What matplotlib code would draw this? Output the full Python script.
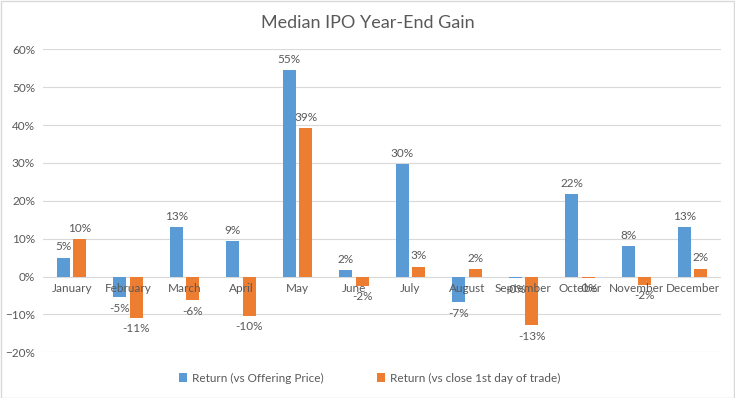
import numpy as np
import matplotlib.pyplot as plt
from matplotlib.patches import Rectangle
from matplotlib.ticker import PercentFormatter

months = ['January', 'February', 'March', 'April', 'May', 'June', 'July',
          'August', 'September', 'October', 'November', 'December']
ret_offer = [0.050, -0.054, 0.130, 0.093, 0.545, 0.016, 0.297,
             -0.068, -0.004, 0.217, 0.080, 0.130]
ret_close = [0.098, -0.109, -0.063, -0.104, 0.392, -0.024, 0.026,
             0.019, -0.129, -0.003, -0.022, 0.021]
series_names = ['Return (vs Offering Price)', 'Return (vs close 1st day of trade)']

plt.rcParams['font.family'] = ['Lato', 'DejaVu Sans']
txt = '#595959'
grid = '#D9D9D9'
blue = '#5B9BD5'
orange = '#ED7D31'

fig = plt.figure(figsize=(7.35, 3.98), dpi=100)
ax = fig.add_axes([0.059, 0.115, 0.922, 0.761])
fig.patches.append(Rectangle((0.001, 0.001), 0.997, 0.996, transform=fig.transFigure,
                             fill=False, edgecolor=grid, lw=1))

yticks = np.arange(-0.2, 0.61, 0.1)
for t in yticks:
    ax.axhline(t, color=grid, lw=0.8, zorder=0)

x = np.arange(len(months))
w = 0.23
off = 0.145
b1 = ax.bar(x - off, ret_offer, w, color=blue, label=series_names[0], zorder=1)
b2 = ax.bar(x + off, ret_close, w, color=orange, label=series_names[1], zorder=1)

for bars, vals in ((b1, ret_offer), (b2, ret_close)):
    for bar, v in zip(bars, vals):
        cx = bar.get_x() + bar.get_width() / 2
        lab = '%d%%' % round(abs(v) * 100)
        if v < 0:
            lab = '-' + lab
        ax.annotate(lab, (cx, v), xytext=(0, 4 if v >= 0 else -4),
                    textcoords='offset points', ha='center',
                    va='bottom' if v >= 0 else 'top', fontsize=8.5, color=txt,
                    zorder=4)

# category labels sit just under the zero line, on top of the bars
for xi, m in zip(x, months):
    ax.annotate(m, (xi, 0), xytext=(0, -5), textcoords='offset points',
                ha='center', va='top', fontsize=8.5, color=txt, zorder=5)

ax.set_xlim(-0.5, len(months) - 0.5)
ax.set_ylim(-0.2, 0.6)
ax.set_yticks(yticks)
ax.yaxis.set_major_formatter(PercentFormatter(1.0, decimals=0))
ax.set_xticks([])
for s in ['top', 'right', 'left', 'bottom']:
    ax.spines[s].set_visible(False)
ax.tick_params(axis='y', length=0, pad=6, labelsize=8.5, labelcolor=txt)

fig.text(0.5, 0.943, 'Median IPO Year-End Gain', ha='center', va='center',
         fontsize=13, color=txt)
fig.legend(loc='center', bbox_to_anchor=(0.503, 0.05), ncol=2, frameon=False,
           fontsize=8.5, labelcolor=txt, handlelength=0.7, handleheight=0.7,
           handletextpad=0.4, columnspacing=4.5)

fig.savefig('out.png', dpi=100)
